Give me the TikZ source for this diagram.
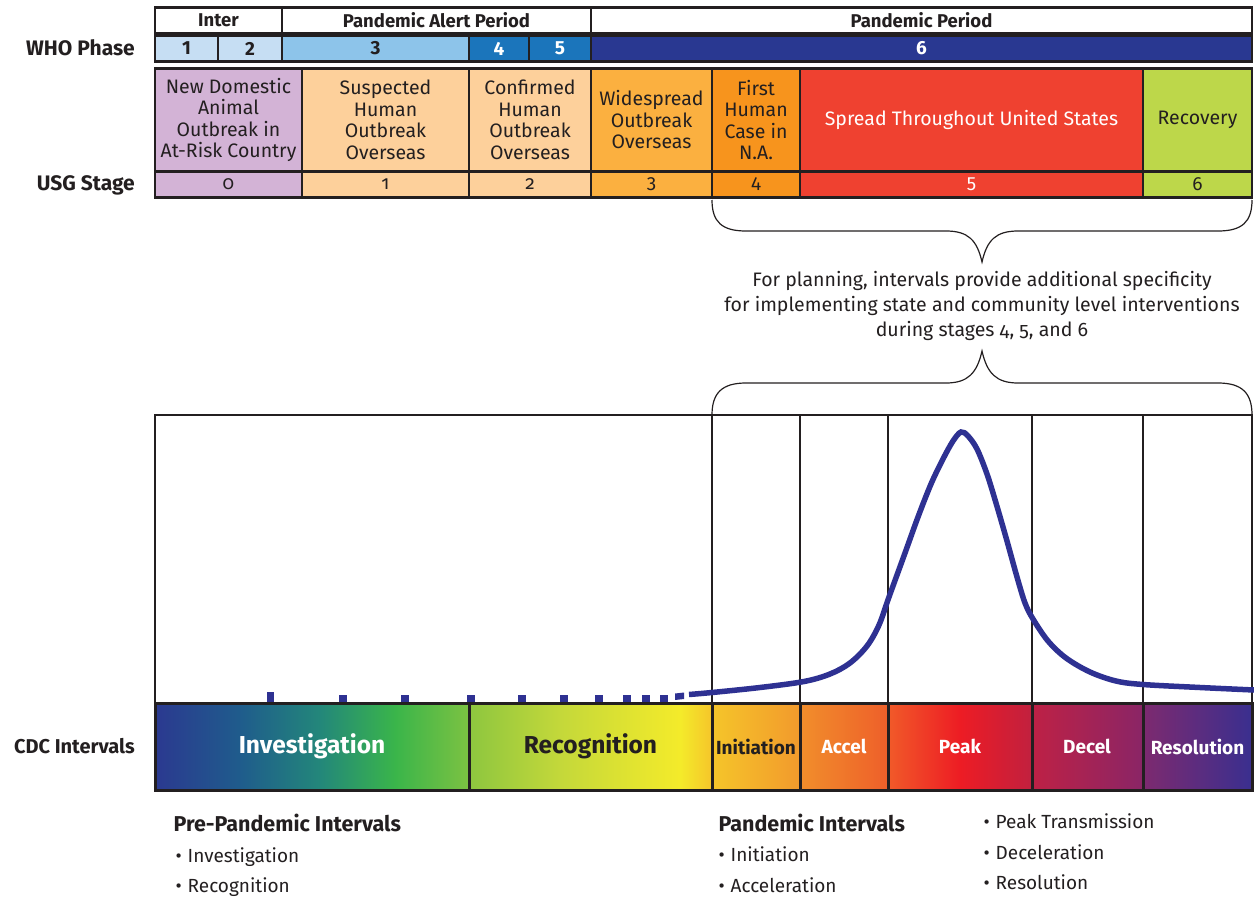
\documentclass[tikz,border=0pt]{standalone}
\usepackage{fontspec}
\setmainfont{Fira Sans}[Numbers=OldStyle]
\newfontfamily\linfont{Fira Sans}
\definecolor{ink}{HTML}{231F20}
\definecolor{whoA}{HTML}{C6DEF3}
\definecolor{whoB}{HTML}{8DC4EA}
\definecolor{whoC}{HTML}{1B75BB}
\definecolor{whoD}{HTML}{293891}
\definecolor{stZero}{HTML}{D3B3D6}
\definecolor{stOne}{HTML}{FDD09B}
\definecolor{stThree}{HTML}{FBB040}
\definecolor{stFour}{HTML}{F7941D}
\definecolor{stFive}{HTML}{EF4130}
\definecolor{stSix}{HTML}{BDD74A}
\definecolor{curve}{HTML}{2E3192}
\definecolor{gA}{HTML}{2B3990}
\definecolor{gB}{HTML}{1F5C8C}
\definecolor{gC}{HTML}{23877A}
\definecolor{gD}{HTML}{3AB54A}
\definecolor{gE}{HTML}{7CC242}
\definecolor{gF}{HTML}{8DC63F}
\definecolor{gG}{HTML}{C4D83A}
\definecolor{gH}{HTML}{F4EB2A}
\definecolor{gI}{HTML}{F5C52A}
\definecolor{gJ}{HTML}{F29A2C}
\definecolor{gK}{HTML}{F18E2B}
\definecolor{gL}{HTML}{EE5F2A}
\definecolor{gM}{HTML}{F15A29}
\definecolor{gN}{HTML}{ED1C24}
\definecolor{gO}{HTML}{C1203F}
\definecolor{gP}{HTML}{BE2145}
\definecolor{gQ}{HTML}{8A2566}
\definecolor{gR}{HTML}{7D2A6F}
\definecolor{gS}{HTML}{3A2F8F}
\begin{document}
\begin{tikzpicture}[x=1pt,y=-1pt]
\useasboundingbox (0,0) rectangle (1254,897);
\tikzset{
  frame/.style={draw=ink, line width=2.6pt},
  thin/.style={draw=ink, line width=1.3pt},
  sidelab/.style={font=\fontsize{21}{24}\selectfont\bfseries, text=ink, anchor=east, inner sep=0pt},
  hdr/.style={font=\fontsize{18.5}{20}\selectfont\bfseries, text=ink},
  phn/.style={font=\linfont\fontsize{19}{20}\selectfont\bfseries},
  desc/.style={font=\fontsize{19.5}{21.5}\selectfont, align=center, text=ink},
  num/.style={font=\fontsize{19}{20}\selectfont, text=ink},
  barbig/.style={font=\fontsize{24.5}{28}\selectfont\bfseries},
  barsmall/.style={font=\fontsize{19}{22}\selectfont\bfseries},
  listhead/.style={font=\fontsize{21.5}{24}\selectfont\bfseries, text=ink, anchor=base west},
  item/.style={font=\fontsize{19}{22}\selectfont, text=ink, anchor=base west},
  dotmark/.style={fill=curve}
}
% ---------- header row ----------
\draw[frame, fill=white] (155,7.5) rectangle (1252,33);
\draw[frame] (282,7.5) -- (282,33) (591,7.5) -- (591,33);
\node[hdr] (hInter) at (218.5,20.5) {Inter};
\node[hdr] (hAlert) at (436.5,20.5) {Pandemic Alert Period};
\node[hdr] (hPand) at (921.5,20.5) {Pandemic Period};
% ---------- WHO phase row ----------
\fill[whoA] (155,35.5) rectangle (282,61.5);
\fill[whoB] (282,35.5) rectangle (469,61.5);
\fill[whoC] (469,35.5) rectangle (591,61.5);
\fill[whoD] (591,35.5) rectangle (1252,61.5);
\draw[frame] (155,35.5) rectangle (1252,61.5);
\draw[frame] (218,35.5) -- (218,61.5) (282,35.5) -- (282,61.5) (469,35.5) -- (469,61.5) (529,35.5) -- (529,61.5) (591,35.5) -- (591,61.5);
\node[phn, text=ink] (p1) at (186.5,48.5) {1};
\node[phn, text=ink] (p2) at (250,48.5) {2};
\node[phn, text=ink] (p3) at (375.5,48.5) {3};
\node[phn, text=white] (p4) at (499,48.5) {4};
\node[phn, text=white] (p5) at (560,48.5) {5};
\node[phn, text=white] (p6) at (921.5,48.5) {6};
\node[sidelab] (whoLab) at (135,47.5) {WHO Phase};
% ---------- USG stages ----------
\fill[stZero] (155,68.5) rectangle (302,197.5);
\fill[stOne] (302,68.5) rectangle (591,197.5);
\fill[stThree] (591,68.5) rectangle (712,197.5);
\fill[stFour] (712,68.5) rectangle (800,197.5);
\fill[stFive] (800,68.5) rectangle (1143,197.5);
\fill[stSix] (1143,68.5) rectangle (1252,197.5);
\draw[frame] (155,68.5) rectangle (1252,197.5);
\draw[frame] (155,171.5) -- (1252,171.5);
\foreach \xx in {302,469,591,712,800,1143} \draw[frame] (\xx,68.5) -- (\xx,197.5);
\node[desc] (d0) at (228.5,120) {New Domestic\\Animal\\Outbreak in\\At-Risk Country};
\node[desc] (d1) at (385.5,120) {Suspected\\Human\\Outbreak\\Overseas};
\node[desc] (d2) at (530,120) {Confirmed\\Human\\Outbreak\\Overseas};
\node[desc] (d3) at (651.5,120) {Widespread\\Outbreak\\Overseas};
\node[desc] (d4) at (756,120) {First\\Human\\Case in\\N.A.};
\node[desc, text=white] (d5) at (971.5,120) {Spread Throughout United States};
\node[desc] (d6) at (1197.5,120) {Recovery};
\node[num] (n0) at (228.5,184.5) {0};
\node[num] (n1) at (385.5,184.5) {1};
\node[num] (n2) at (530,184.5) {2};
\node[num] (n3) at (651.5,184.5) {3};
\node[num] (n4) at (756,184.5) {4};
\node[num, text=white] (n5) at (971.5,184.5) {5};
\node[num] (n6) at (1197.5,184.5) {6};
\node[sidelab] (usgLab) at (135,185) {USG Stage};
% ---------- braces and note ----------
\draw[thin, line width=1.2pt] (712,200) .. controls (712,222) and (722,231) .. (746,231) -- (946,231) .. controls (968,231) and (977,240) .. (982,262) .. controls (987,240) and (996,231) .. (1018,231) -- (1218,231) .. controls (1242,231) and (1252,222) .. (1252,200);
\node[font=\fontsize{19.5}{25}\selectfont, align=center, text=ink] (note) at (982,306) {For planning, intervals provide additional specificity\\for implementing state and community level interventions\\during stages 4, 5, and 6};
\draw[thin, line width=1.2pt] (712,415) .. controls (712,393) and (722,383) .. (746,383) -- (946,383) .. controls (968,383) and (977,373) .. (982,351) .. controls (987,373) and (996,383) .. (1018,383) -- (1218,383) .. controls (1242,383) and (1252,393) .. (1252,415);
% ---------- chart frame ----------
\draw[draw=ink, line width=1.1pt] (155,703) -- (155,415) -- (1252,415) -- (1252,703);
\foreach \xx in {712,800,888,1032,1143} \draw[draw=ink, line width=1.4pt] (\xx,415) -- (\xx,703);
% dotted start of the curve
\fill[dotmark] (266.5,692) rectangle (273.5,703);
\foreach \xx in {343,405,471,522,564,599,627,646,664} \fill[dotmark] (\xx-3.6,695) rectangle (\xx+3.6,703);
\fill[dotmark] (675,693.5) -- (684,692.5) -- (684,699) -- (675,700) -- cycle;
% epidemic curve
\draw[curve, line width=5.5pt, line cap=butt] plot[smooth, tension=0.55] coordinates {(689,694.5) (712,692.5) (760,687.5) (804,681.5) (830,674) (850,663) (867,646) (879,625) (889,597) (905,553) (918,517) (931,484) (943,459) (953,441) (961,432) (968,436) (977,449) (987,474) (996,503) (1007,541) (1017,577) (1025,603) (1033,619) (1048,641) (1066,658) (1090,672) (1116,681) (1143,684.5) (1200,687.5) (1254,690)};
% ---------- CDC interval bar ----------
\shade[left color=gA, right color=gB] (155,703) rectangle (240.5,790);
\shade[left color=gB, right color=gC] (240,703) rectangle (320.5,790);
\shade[left color=gC, right color=gD] (320,703) rectangle (395.5,790);
\shade[left color=gD, right color=gE] (395,703) rectangle (469,790);
\shade[left color=gF, right color=gG] (469,703) rectangle (560.5,790);
\shade[left color=gG, right color=gH] (560,703) rectangle (680.5,790);
\shade[left color=gH, right color=gI] (680,703) rectangle (712,790);
\shade[left color=gI, right color=gJ] (712,703) rectangle (800,790);
\shade[left color=gK, right color=gL] (800,703) rectangle (888,790);
\shade[left color=gM, right color=gN] (888,703) rectangle (960.5,790);
\shade[left color=gN, right color=gO] (960,703) rectangle (1032,790);
\shade[left color=gP, right color=gQ] (1032,703) rectangle (1143,790);
\shade[left color=gR, right color=gS] (1143,703) rectangle (1252,790);
\draw[frame, line width=3pt] (155,703) rectangle (1252,790);
\foreach \xx in {469,712,800,888,1032,1143} \draw[frame, line width=3pt] (\xx,703) -- (\xx,790);
\node[barbig, text=white] (bInv) at (312,746.5) {Investigation};
\node[barbig, text=ink] (bRec) at (590.5,746.5) {Recognition};
\node[barsmall, text=ink] (bIni) at (756,746.5) {Initiation};
\node[barsmall, text=white] (bAcc) at (844,746.5) {Accel};
\node[barsmall, text=white] (bPeak) at (960,746.5) {Peak};
\node[barsmall, text=white] (bDec) at (1087,746.5) {Decel};
\node[barsmall, text=white] (bRes) at (1197.5,746.5) {Resolution};
\node[sidelab, font=\fontsize{20}{24}\selectfont\bfseries] (cdcLab) at (135,746.5) {CDC Intervals};
% ---------- lists ----------
\node[listhead] (preHead) at (170,831) {Pre-Pandemic Intervals};
\node[item] (preA) at (172,862) {•\hspace{6pt}Investigation};
\node[item] (preB) at (172,892) {•\hspace{6pt}Recognition};
\node[listhead] (panHead) at (715,831) {Pandemic Intervals};
\node[item] (panA) at (715,861) {•\hspace{6pt}Initiation};
\node[item] (panB) at (715,892) {•\hspace{6pt}Acceleration};
\node[item] (panC) at (980,828) {•\hspace{6pt}Peak Transmission};
\node[item] (panD) at (980,859) {•\hspace{6pt}Deceleration};
\node[item] (panE) at (980,889) {•\hspace{6pt}Resolution};
\end{tikzpicture}
\end{document}
